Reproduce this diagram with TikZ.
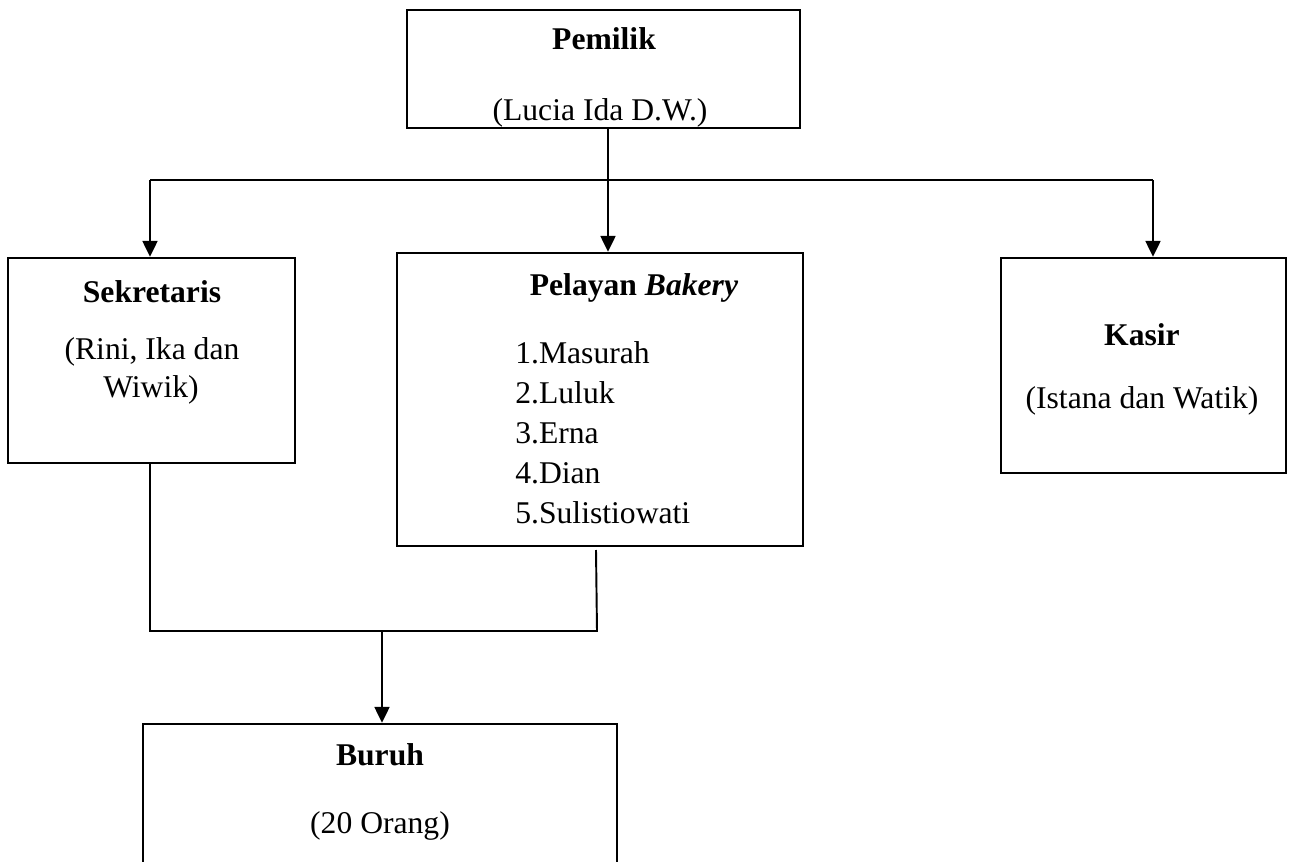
\documentclass[tikz,border=0pt]{standalone}
\usepackage{fontspec}
\setmainfont{Liberation Serif}
\usetikzlibrary{arrows.meta}

\tikzset{
  orgbox/.style={draw, rectangle, line width=1.4pt, inner sep=0pt},
  conn/.style={line width=1.1pt},
  arr/.style={conn, -{Triangle[width=8.5pt,length=9pt]}},
  lbl/.style={anchor=base, inner sep=0pt}
}

\begin{document}
\begin{tikzpicture}[x=0.02cm, y=-0.02cm, font=\fontsize{18}{22}\selectfont]
    \clip (0,0) rectangle (1296,862);

    % Boxes
    \node[orgbox, minimum width=7.86cm, minimum height=2.36cm] (pemilik) at (603.5,69) {};
    \node[orgbox, minimum width=5.74cm, minimum height=4.10cm] (sekretaris) at (151.5,360.5) {};
    \node[orgbox, minimum width=8.12cm, minimum height=5.86cm] (pelayan) at (600,399.5) {};
    \node[orgbox, minimum width=5.70cm, minimum height=4.30cm] (kasir) at (1143.5,365.5) {};
    \node[orgbox, minimum width=9.48cm, minimum height=3.12cm] (buruh) at (380,802) {};

    % Texts
    \node[lbl] (pemilikT) at (604,50) {\bfseries Pemilik};
    \node[lbl] (pemilikN) at (600,120) {(Lucia Ida D.W.)};

    \node[lbl] (sekretarisT) at (152,302) {\bfseries Sekretaris};
    \node[lbl] (sekretarisA) at (152,359) {(Rini, Ika dan};
    \node[lbl] (sekretarisB) at (151,397) {Wiwik)};

    \node[lbl] (pelayanT) at (634,295) {\bfseries Pelayan \textit{Bakery}};
    \foreach \n [count=\i] in {Masurah,Luluk,Erna,Dian,Sulistiowati} {
        \node[lbl, anchor=base west] (pelayan\i) at (515,{363+40*(\i-1)}) {\i.\n};
    }

    \node[lbl] (kasirT) at (1142,345) {\bfseries Kasir};
    \node[lbl] (kasirN) at (1142,408) {(Istana dan Watik)};

    \node[lbl] (buruhT) at (380,765) {\bfseries Buruh};
    \node[lbl] (buruhN) at (380,833) {(20 Orang)};

    % Junctions
    \coordinate (barL) at (150,180);
    \coordinate (barM) at (608,180);
    \coordinate (barR) at (1153,180);
    \coordinate (joinL) at (150,631);
    \coordinate (joinM) at (382,631);
    \coordinate (joinR) at (597,631);
    \coordinate (stubtop) at (596,550);

    % Upper connectors
    \draw[conn] (pemilik.south -| barM) -- (barM);
    \draw[conn] (barL) -- (barR);
    \draw[arr] (barL) -- (barL |- sekretaris.north);
    \draw[arr] (barM) -- (barM |- pelayan.north);
    \draw[arr] (barR) -- (barR |- kasir.north);

    % Lower connectors
    \draw[conn] (joinL |- sekretaris.south) -- (joinL) -- (joinR) -- (stubtop);
    \draw[arr] (joinM) -- (joinM |- buruh.north);
\end{tikzpicture}
\end{document}
